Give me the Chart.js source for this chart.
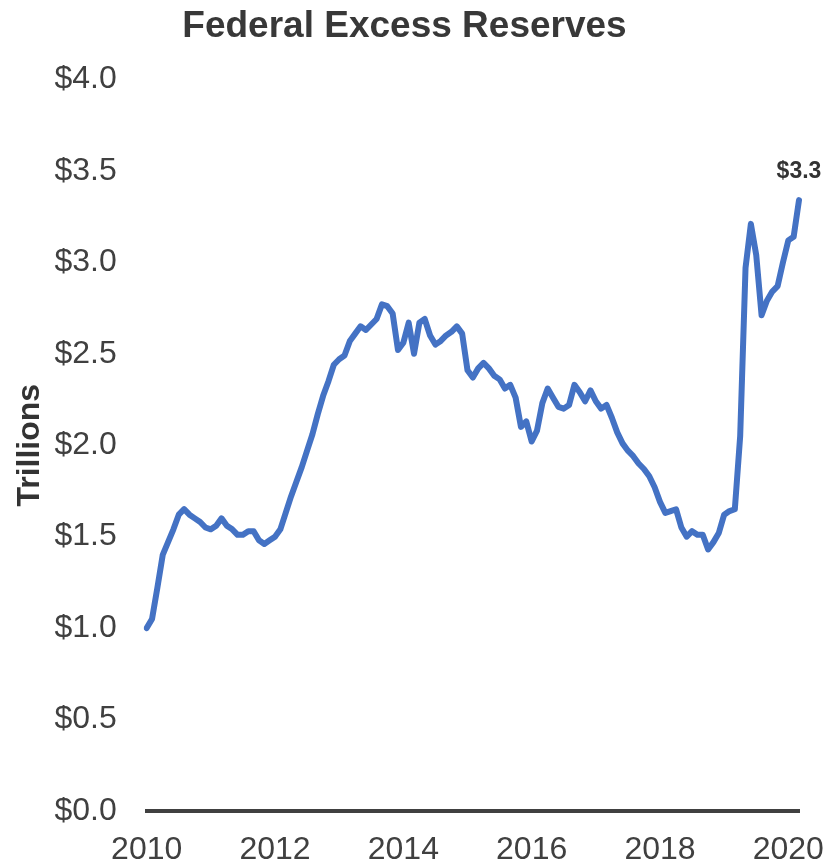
<!DOCTYPE html>
<html>
<head>
<meta charset="utf-8">
<title>Federal Excess Reserves</title>
<script src="https://cdn.jsdelivr.net/npm/chart.js@4.4.1/dist/chart.umd.min.js"></script>
<style>
  html, body { margin: 0; padding: 0; background: #fff; }
  #wrap { width: 839px; height: 866px; }
</style>
</head>
<body>
<div id="wrap"><canvas id="ReservesCanvas"></canvas></div>
<script>
// monthly excess reserves, trillions of dollars, Jan 2010 .. Mar 2020
const startYear = 2010;
const reserves = [
  1.00, 1.05, 1.22, 1.40, 1.47, 1.54, 1.62, 1.65, 1.62, 1.60, 1.58, 1.55,
  1.54, 1.56, 1.60, 1.56, 1.54, 1.51, 1.51, 1.53, 1.53, 1.48, 1.46, 1.48,
  1.50, 1.54, 1.63, 1.72, 1.80, 1.88, 1.97, 2.06, 2.17, 2.27, 2.35, 2.44,
  2.47, 2.49, 2.57, 2.61, 2.65, 2.63, 2.66, 2.69, 2.77, 2.76, 2.72, 2.52,
  2.56, 2.67, 2.50, 2.67, 2.69, 2.60, 2.55, 2.57, 2.60, 2.62, 2.65, 2.61,
  2.41, 2.37, 2.42, 2.45, 2.42, 2.38, 2.36, 2.31, 2.33, 2.26, 2.10, 2.13,
  2.02, 2.08, 2.23, 2.31, 2.26, 2.21, 2.20, 2.22, 2.33, 2.29, 2.24, 2.30,
  2.24, 2.20, 2.22, 2.15, 2.07, 2.01, 1.97, 1.94, 1.90, 1.87, 1.83, 1.77,
  1.69, 1.63, 1.64, 1.65, 1.55, 1.50, 1.53, 1.51, 1.51, 1.43, 1.47, 1.52,
  1.62, 1.64, 1.65, 2.05, 2.97, 3.21, 3.04, 2.71, 2.79, 2.84, 2.87, 3.00,
  3.12, 3.14, 3.34
];
const yearLabels = ['2010', '2012', '2014', '2016', '2018', '2020'];

const months = reserves.map((v, i) => {
  const y = startYear + Math.floor(i / 12);
  const m = (i % 12) + 1;
  return y + '-' + (m < 10 ? '0' + m : m);
});

const fontFamily = "'Liberation Sans', Arial, sans-serif";
const textColor = '#404040';
const lineColor = '#4472C4';

// writes the latest value above the end of the line
const lastValueLabel = {
  id: 'lastValueLabel',
  afterDatasetsDraw: chart => {
    const meta = chart.getDatasetMeta(0);
    const last = meta.data[meta.data.length - 1];
    const value = chart.data.datasets[0].data[meta.data.length - 1];
    const ctx = chart.ctx;
    ctx.save();
    ctx.font = 'bold 23px ' + fontFamily;
    ctx.fillStyle = '#333333';
    ctx.textAlign = 'center';
    ctx.textBaseline = 'alphabetic';
    ctx.fillText('$' + value.toFixed(1), last.x, last.y - 22);
    ctx.restore();
  }
};

new Chart(document.getElementById('ReservesCanvas'), {
  type: 'line',
  data: {
    labels: months,
    datasets: [{
      label: 'Excess reserves',
      data: reserves,
      borderColor: lineColor,
      backgroundColor: lineColor,
      borderWidth: 6,
      borderJoinStyle: 'round',
      borderCapStyle: 'round',
      pointRadius: 0,
      pointHoverRadius: 0,
      tension: 0,
      fill: false
    }]
  },
  options: {
    animation: false,
    responsive: true,
    maintainAspectRatio: false,
    layout: {
      padding: { left: 10, right: 40, top: 0, bottom: 0 }
    },
    scales: {
      x: {
        // tick marks hidden, their length only spaces the labels off the axis
        grid: { display: false, drawTicks: true, tickLength: 23 },
        border: { display: true, color: '#404040', width: 4 },
        ticks: {
          autoSkip: false,
          maxRotation: 0,
          padding: 0,
          color: textColor,
          font: { family: fontFamily, size: 32, lineHeight: 1 },
          callback: function (val) {
            const lab = this.getLabelForValue(val);
            const yr = lab.slice(0, 4);
            return lab.endsWith('-01') && yearLabels.includes(yr) ? yr : null;
          }
        }
      },
      y: {
        min: 0,
        max: 4,
        grid: { display: false, drawTicks: true, tickLength: 30 },
        border: { display: false },
        ticks: {
          stepSize: 0.5,
          padding: 0,
          color: textColor,
          font: { family: fontFamily, size: 32 },
          callback: v => '$' + v.toFixed(1)
        },
        title: {
          display: true,
          text: 'Trillions',
          color: '#333333',
          padding: { top: 1, bottom: 5 },
          font: { family: fontFamily, size: 32, weight: 'bold' }
        }
      }
    },
    plugins: {
      legend: { display: false },
      tooltip: { enabled: false },
      title: {
        display: true,
        text: 'Federal Excess Reserves',
        color: '#383838',
        padding: { top: 5, bottom: 30 },
        font: { family: fontFamily, size: 37, weight: 'bold' }
      }
    }
  },
  plugins: [lastValueLabel]
});
</script>
</body>
</html>
